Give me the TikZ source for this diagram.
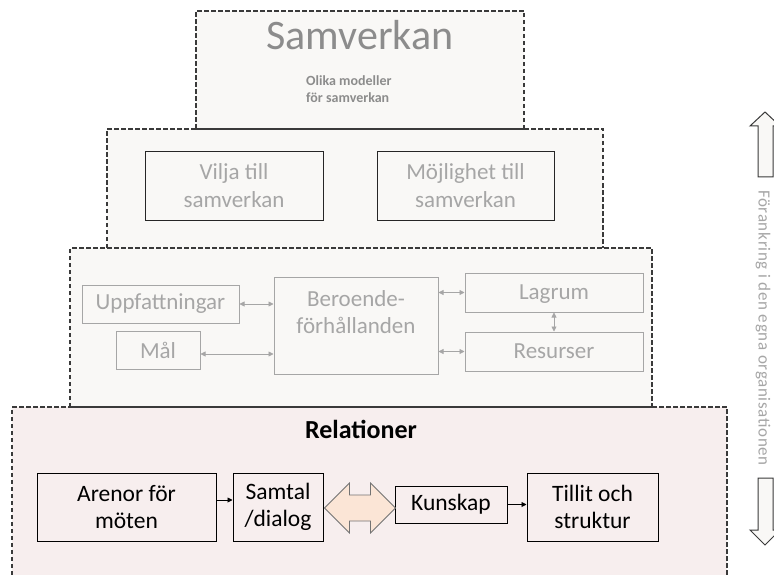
\documentclass[tikz,border=0pt]{standalone}
\usepackage{fontspec}
\setmainfont{Carlito}
\usetikzlibrary{calc,arrows.meta}
\definecolor{lvfill}{HTML}{F9F8F6}
\definecolor{pinkfill}{HTML}{F7EEEE}
\definecolor{txtgray}{HTML}{A6A6A6}
\definecolor{midgray}{HTML}{8C8C8C}
\definecolor{peach}{HTML}{FBE5D6}
\definecolor{edgecol}{HTML}{3A3A3A}
\begin{document}
\begin{tikzpicture}[x=1pt,y=-1pt,
  lvl/.style={draw=edgecol, line width=1.1pt, dash pattern=on 4.5pt off 2.5pt},
  shared/.style={draw=edgecol, line width=1.1pt},
  blkbox/.style={draw=black!85, line width=1pt, inner sep=0pt, align=center,
    font=\fontsize{23}{28}\selectfont, text=txtgray},
  graybox/.style={draw=txtgray, line width=1pt, inner sep=0pt, align=center,
    font=\fontsize{23}{27}\selectfont, text=txtgray},
  relbox/.style={draw=black, line width=1pt, inner sep=0pt, align=center,
    font=\fontsize{23.5}{27.5}\selectfont},
  garrow/.style={draw=txtgray, line width=0.8pt,
    {Triangle[length=5pt,width=5pt]}-{Triangle[length=5pt,width=5pt]}},
  barrow/.style={draw=black, line width=0.9pt, -{Triangle[length=5pt,width=5pt]}},
  fatarrow/.style={draw=black!55, line width=0.8pt, fill=peach},
  sidearrow/.style={draw=edgecol, line width=1pt, fill=lvfill}
]
\useasboundingbox (0,0) rectangle (774,575);
\fill[white] (0,0) rectangle (774,575);

% level fills
\fill[pinkfill] (12,407) rectangle (727,575);
\fill[lvfill] (70,248) rectangle (652,407);
\fill[lvfill] (107,129) rectangle (603,248);
\fill[lvfill] (196,11) rectangle (524,129);

% level outlines
\draw[lvl] (12,575) -- (12,407) -- (70,407);
\draw[lvl] (652,407) -- (727,407) -- (727,575);
\draw[shared] (70,407) -- (652,407);
\draw[lvl] (70,407) -- (70,248) -- (652,248) -- (652,407);
\draw[lvl] (107,248) -- (107,129) -- (196,129);
\draw[lvl] (524,129) -- (603,129) -- (603,248);
\draw[shared] (196,129) -- (524,129);
\draw[lvl] (196,129) -- (196,11) -- (524,11) -- (524,129);

% level 1
\node[anchor=base, text=midgray, font=\fontsize{42}{42}\selectfont] (samv) at (360,50) {Samverkan};
\node[anchor=west, inner sep=0pt, align=left, text=midgray, font=\bfseries\fontsize{14}{17}\selectfont] (olika) at (306,89) {Olika modeller\\för samverkan};

% level 2
\node[blkbox, minimum width=178pt, minimum height=68pt] (vilja) at (234,186) {Vilja till\\samverkan};
\node[blkbox, minimum width=177pt, minimum height=68pt] (moj) at (465.5,186) {Möjlighet till\\samverkan};

% level 3
\node[graybox, minimum width=157pt, minimum height=38pt] (upp) at (160.5,304) {Uppfattningar};
\node[graybox, minimum width=84pt, minimum height=38pt] (mal) at (158,350) {Mål};
\node[graybox, minimum width=164pt, minimum height=97pt] (ber) at (356,325.5) {Beroende-\\förhållanden\\\mbox{}};
\node[graybox, minimum width=178pt, minimum height=39pt, text depth=0pt] (lag) at (554,292.5) {Lagrum};
\node[graybox, minimum width=178pt, minimum height=39pt] (res) at (554,351.5) {Resurser};

\draw[garrow] (upp.east) -- (upp.east -| ber.west);
\draw[garrow] ([yshift=-4pt]mal.east) -- ([yshift=-4pt]mal.east -| ber.west);
\draw[garrow] (lag.west -| ber.east) -- (lag.west);
\draw[garrow] (res.west -| ber.east) -- (res.west);
\draw[garrow] (lag.south) -- (res.north);

% level 4
\node[anchor=base, font=\bfseries\fontsize{26}{26}\selectfont] (rel) at (361,438) {Relationer};
\node[relbox, minimum width=179pt, minimum height=68pt] (aren) at (126.5,507) {Arenor för\\möten};
\node[relbox, minimum width=90pt, minimum height=68pt] (samt) at (278,507) {Samtal\\/dialog};
\node[relbox, minimum width=112pt, minimum height=37pt] (kun) at (451,504.5) {Kunskap};
\node[relbox, minimum width=131pt, minimum height=68pt] (till) at (592.5,507) {Tillit och\\struktur};

\draw[barrow] ([yshift=7pt]aren.east) -- ([yshift=7pt]aren.east -| samt.west);
\draw[barrow] (kun.east) -- (kun.east -| till.west);

\coordinate (dl) at ($(samt.east)+(1,1)$);
\coordinate (dr) at ($(kun.west)+(1,3.5)$);
\draw[fatarrow] (dl) -- ($(dl)+(25,-25)$) -- ($(dl)+(25,-13)$) -- ($(dr)+(-25,-13)$)
  -- ($(dr)+(-25,-25)$) -- (dr) -- ($(dr)+(-25,25)$) -- ($(dr)+(-25,13)$)
  -- ($(dl)+(25,13)$) -- ($(dl)+(25,25)$) -- cycle;

% side arrows and text
\coordinate (uptip) at (765,112);
\coordinate (dntip) at (765,545);
\draw[sidearrow] (uptip) -- ($(uptip)+(15,14)$) -- ($(uptip)+(8,14)$) -- ($(uptip)+(8,65)$)
  -- ($(uptip)+(-7,65)$) -- ($(uptip)+(-7,14)$) -- ($(uptip)+(-15,14)$) -- cycle;
\draw[sidearrow] (dntip) -- ($(dntip)+(15,-15)$) -- ($(dntip)+(8,-15)$) -- ($(dntip)+(8,-67)$)
  -- ($(dntip)+(-7,-67)$) -- ($(dntip)+(-7,-15)$) -- ($(dntip)+(-15,-15)$) -- cycle;
\node[rotate=-90, text=txtgray, font=\fontsize{17}{17}\selectfont\addfontfeatures{LetterSpace=4}] (forank) at (763,328) {Förankring i den egna organisationen};
\end{tikzpicture}
\end{document}
